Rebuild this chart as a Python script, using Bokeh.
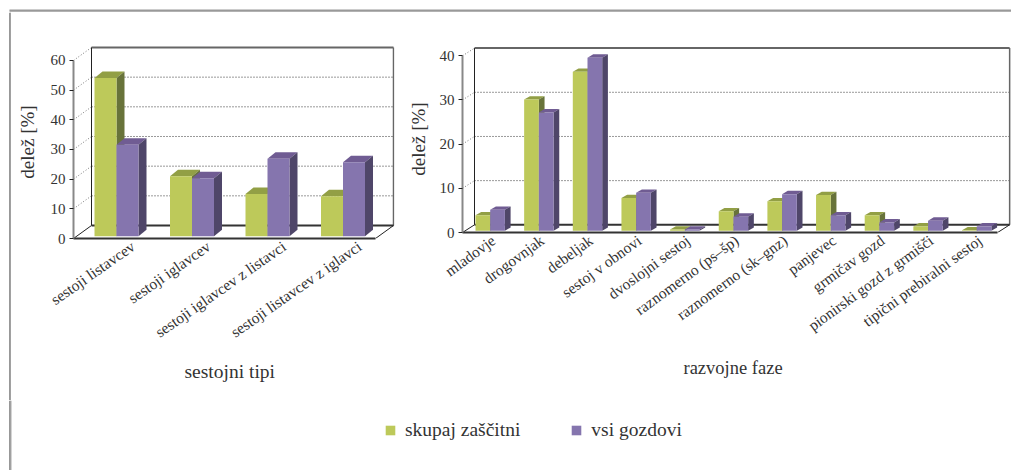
from bokeh.plotting import figure
from bokeh.layouts import column, row
from bokeh.models import Range1d, FixedTicker, Legend, LegendItem, Title
from bokeh.embed import file_html
from bokeh.resources import INLINE

# ---- data ----
types = ["sestoji listavcev", "sestoji iglavcev", "sestoji iglavcev z listavci", "sestoji listavcev z iglavci"]
types_green = [53.3, 20.2, 14.2, 13.5]
types_purple = [30.8, 19.5, 26.1, 24.9]
types_ticks = [0, 10, 20, 30, 40, 50, 60]

phases = ["mladovje", "drogovnjak", "debeljak", "sestoj v obnovi", "dvoslojni sestoj",
          "raznomerno (ps–šp)", "raznomerno (sk–gnz)", "panjevec", "grmičav gozd",
          "pionirski gozd z grmišči", "tipični prebiralni sestoj"]
phases_green = [3.5, 29.7, 36.0, 7.4, 0.3, 4.4, 6.7, 8.1, 3.5, 1.0, 0.1]
phases_purple = [4.75, 26.8, 39.2, 8.6, 0.3, 3.2, 8.3, 3.5, 1.9, 2.3, 1.0]
phases_ticks = [0, 10, 20, 30, 40]

series_names = ["skupaj zaščitni", "vsi gozdovi"]
GREEN = ("#BDC95A", "#929F45", "#68733A")
PURPLE = ("#8575AE", "#705C93", "#4F4669")
FONT = "Liberation Serif"
TXT = "#333333"


def panel(cats, green, purple, ticks, width, height, left, right, top, bottom,
          frame_w, frame_h, pitch, ppu, wall_px, bar_off, bar_w, depth, base_px,
          label_shift, angle, label_size, xlabel, xlabel_size, x_offset, standoff, title_standoff):
    """All px arguments are converted through the pitch / ppu scale into data units."""
    p = figure(width=width, height=height, output_backend="svg", toolbar_location=None,
               x_range=Range1d(0, frame_w / pitch), y_range=Range1d(0, frame_h / ppu),
               min_border_left=left, min_border_right=right, min_border_top=top, min_border_bottom=bottom,
               background_fill_color="white", border_fill_color=None, outline_line_color=None,
               frame_align=False)
    p.xgrid.visible = False
    p.ygrid.visible = False
    n = len(cats)
    wx, wy = wall_px[0] / pitch, wall_px[1] / ppu
    xend = n + wx
    vmax = ticks[-1]

    # walls
    p.segment([wx] * (len(ticks) - 2), [t + wy for t in ticks[1:-1]],
              [xend] * (len(ticks) - 2), [t + wy for t in ticks[1:-1]],
              line_color="#333333", line_width=1, line_dash="1 2")
    p.segment([0] * (len(ticks) - 1), ticks[1:], [wx] * (len(ticks) - 1), [t + wy for t in ticks[1:]],
              line_color="#777777", line_width=1, line_dash="1 2")
    p.segment([wx], [vmax + wy], [xend], [vmax + wy], line_color="#666666", line_width=2)
    p.segment([wx], [wy], [wx], [vmax + wy], line_color="#222222", line_width=1)
    p.segment([xend], [wy], [xend], [vmax + wy], line_color="#666666", line_width=1.5)
    p.segment([wx], [wy], [xend], [wy], line_color="#333333", line_width=2)
    p.segment([0, n], [0, 0], [wx, xend], [wy, wy], line_color="#222222", line_width=1)

    # bars
    base = base_px / ppu
    dx, dy = depth[0] / pitch, depth[1] / ppu
    bw = bar_w / pitch
    off = bar_off / pitch
    for k, (vals, cols) in enumerate(((green, GREEN), (purple, PURPLE))):
        ls = [i + off + k * bw for i in range(n)]
        rs = [l + bw for l in ls]
        tops = [base + v for v in vals]
        p.patches([[l, r, r + dx, l + dx] for l, r in zip(ls, rs)],
                  [[t, t, t + dy, t + dy] for t in tops],
                  fill_color=cols[1], line_color=None)
        p.patches([[r, r + dx, r + dx, r] for r in rs],
                  [[base, base + dy, t + dy, t] for t in tops],
                  fill_color=cols[2], line_color=None)
        p.quad(left=ls, right=rs, bottom=[base] * n, top=tops, fill_color=cols[0], line_color=None)

    # axes
    ya = p.yaxis[0]
    ya.ticker = FixedTicker(ticks=ticks)
    ya.bounds = (ticks[0], ticks[-1])
    ya.minor_tick_line_color = None
    ya.major_tick_out = 4
    ya.major_tick_in = 0
    ya.major_tick_line_color = "#222222"
    ya.axis_line_color = "#888888"
    ya.axis_line_width = 2
    ya.major_label_text_font = FONT
    ya.major_label_text_font_size = "15px"
    ya.major_label_text_color = TXT
    ya.major_label_standoff = 4
    ya.axis_label = "delež [%]"
    ya.axis_label_text_font = FONT
    ya.axis_label_text_font_size = "19px"
    ya.axis_label_text_font_style = "normal"
    ya.axis_label_text_color = TXT
    ya.axis_label_standoff = title_standoff

    xa = p.xaxis[0]
    tick_pos = [i + label_shift for i in range(n)]
    xa.ticker = FixedTicker(ticks=tick_pos)
    xa.major_label_overrides = {t: c for t, c in zip(tick_pos, cats)}
    xa.bounds = (0, n)
    xa.minor_tick_line_color = None
    xa.major_tick_line_color = None
    xa.axis_line_color = "#333333"
    xa.axis_line_width = 2
    xa.major_label_orientation = angle
    xa.major_label_text_font = FONT
    xa.major_label_text_font_size = label_size
    xa.major_label_text_color = TXT
    xa.major_label_standoff = 0
    p.add_layout(Title(text=xlabel, align="left", offset=x_offset, standoff=standoff,
                       text_font=FONT, text_font_size=xlabel_size, text_font_style="normal",
                       text_color=TXT), "below")
    return p


def strip(w, h):
    s = figure(width=w, height=h, output_backend="svg", toolbar_location=None,
               x_range=Range1d(0, w), y_range=Range1d(h, 0), min_border=0,
               outline_line_color=None, border_fill_color=None, frame_align=False)
    s.axis.visible = False
    s.grid.visible = False
    return s


p1 = panel(types, types_green, types_purple, types_ticks,
           width=389, height=388, left=62, right=6, top=33, bottom=162,
           frame_w=321, frame_h=193, pitch=75.5, ppu=2.967, wall_px=(18, 13), bar_off=21, bar_w=22,
           depth=(8, 6.5), base_px=2.3, label_shift=0.79, angle=0.61, label_size="15.5px",
           xlabel="sestojni tipi", xlabel_size="19.5px", x_offset=111, standoff=16, title_standoff=10)
p2 = panel(phases, phases_green, phases_purple, phases_ticks,
           width=611, height=388, left=62, right=0, top=33, bottom=168,
           frame_w=549, frame_h=187, pitch=48.65, ppu=4.417, wall_px=(12, 7.7), bar_off=13, bar_w=14.7,
           depth=(5.7, 3.3), base_px=1.7, label_shift=0.636, angle=0.63, label_size="15.5px",
           xlabel="razvojne faze", xlabel_size="18.5px", x_offset=221, standoff=24, title_standoff=8)

# outer frame: only its top and left edges are in the picture
top_strip = strip(1011, 12)
top_strip.quad(left=[9], right=[1011], top=[9], bottom=[10], fill_color="#999999", line_color=None)
top_strip.quad(left=[9], right=[1011], top=[10], bottom=[11], fill_color="#666666", line_color=None)
left_strip = strip(11, 388)
left_strip.quad(left=[9], right=[10], top=[0], bottom=[388], fill_color="#333333", line_color=None)
left_strip.quad(left=[10], right=[11], top=[0], bottom=[388], fill_color="#AAAAAA", line_color=None)

p3 = strip(1011, 70)
p3.quad(left=[9], right=[10], top=[0], bottom=[70], fill_color="#333333", line_color=None)
p3.quad(left=[10], right=[11], top=[0], bottom=[70], fill_color="#AAAAAA", line_color=None)
r_g = p3.quad(left=[-20], right=[-10], top=[-20], bottom=[-10], fill_color=GREEN[0], line_color=None)
r_p = p3.quad(left=[-20], right=[-10], top=[-20], bottom=[-10], fill_color=PURPLE[0], line_color=None)
legend = Legend(items=[LegendItem(label=series_names[0], renderers=[r_g]),
                       LegendItem(label=series_names[1], renderers=[r_p])],
                orientation="horizontal", location=(384, 29), border_line_color=None,
                background_fill_alpha=0, glyph_width=12, glyph_height=12, spacing=50,
                label_standoff=9, margin=0, padding=4,
                label_text_font=FONT, label_text_font_size="19.5px", label_text_color=TXT)
p3.add_layout(legend)

layout = column(top_strip, row(left_strip, p1, p2, spacing=0), p3, spacing=0)
open("out.html", "w").write(file_html(layout, INLINE))
